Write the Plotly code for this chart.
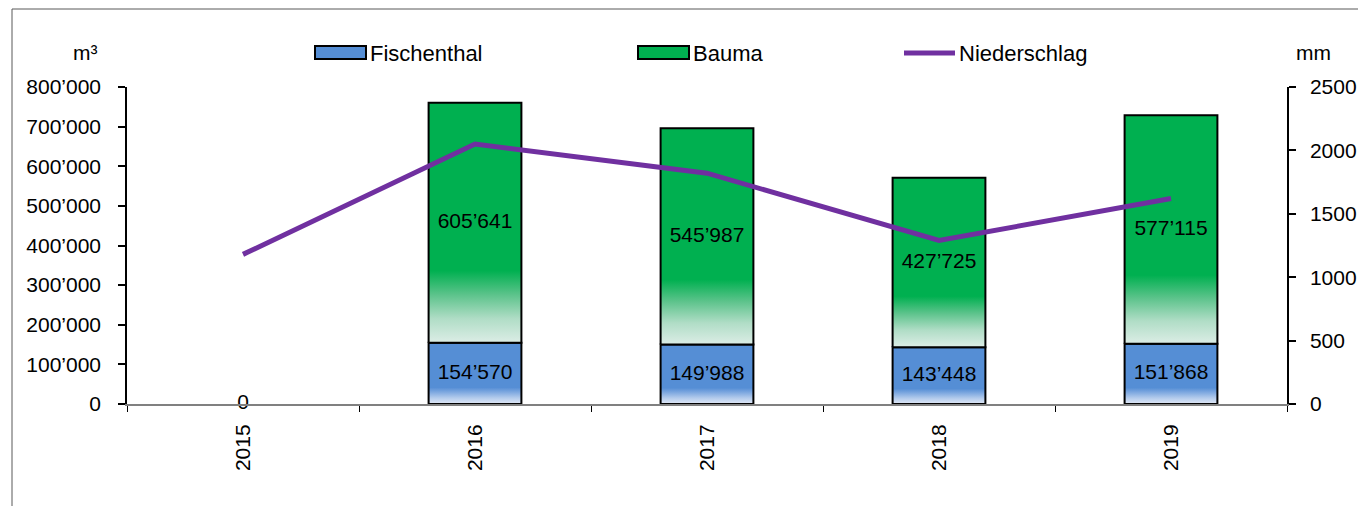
import plotly.graph_objects as go

# Jahreswerte
years = ["2015", "2016", "2017", "2018", "2019"]
fischenthal = [0, 154570, 149988, 143448, 151868]        # m³
bauma = [None, 605641, 545987, 427725, 577115]            # m³
niederschlag = [1180, 2050, 1820, 1290, 1620]             # mm

left_ticks = [0, 100000, 200000, 300000, 400000, 500000, 600000, 700000, 800000]
right_ticks = [0, 500, 1000, 1500, 2000, 2500]

BLUE = "#558ed5"
GREEN = "#00b050"
PURPLE = "#7030a0"
FONT = "Liberation Sans, Arial, sans-serif"
FS = 21

# Farbverlauf am unteren Rand der Balken (0 = Balkenfuss, 1 = Balkenoberkante)
BLUE_SCALE = [[0, "#e2e9f6"], [0.1, "#b3cbec"], [0.2, "#7ba6df"], [0.27, BLUE], [1, BLUE]]
GREEN_SCALE = [[0, "#dcede6"], [0.1, "#b0ddc6"], [0.2, "#5cc38b"], [0.3, GREEN], [1, GREEN]]

W, H = 1358, 506
ML, MR, MT, MB = 127, 71, 87, 102
PW, PH = W - ML - MR, H - MT - MB


def fmt(v):
    return f"{v:,}".replace(",", "\u2019")


def px_x(px):
    return (px - ML) / PW


def px_y(py):
    return (H - MB - py) / PH


BAR_HALF = 0.2
fig = go.Figure()


def add_bar(i, base, value, scale, name):
    x0, x1 = i - BAR_HALF, i + BAR_HALF
    top = base + value
    fig.add_trace(go.Scatter(
        x=[x0, x1, x1, x0, x0],
        y=[base, base, top, top, base],
        mode="lines",
        fill="toself",
        fillgradient=dict(type="vertical", start=base, stop=top, colorscale=scale),
        line=dict(color="black", width=2),
        name=name,
        showlegend=False,
        hoverinfo="skip",
    ))


for i, (f, b) in enumerate(zip(fischenthal, bauma)):
    if f:
        add_bar(i, 0, f, BLUE_SCALE, "Fischenthal")
    if b:
        add_bar(i, f, b, GREEN_SCALE, "Bauma")

# Wertebeschriftungen in der Mitte der Segmente
fx, fy, ft = [], [], []
bx, by, bt = [], [], []
for i, (f, b) in enumerate(zip(fischenthal, bauma)):
    fx.append(i)
    fy.append(f / 2)
    ft.append(fmt(f))
    if b is not None:
        bx.append(i)
        by.append(f + b / 2)
        bt.append(fmt(b))

fig.add_trace(go.Scatter(
    x=list(range(len(years))), y=niederschlag, mode="lines",
    line=dict(color=PURPLE, width=5), yaxis="y2", name="Niederschlag",
    showlegend=False,
))

fig.add_trace(go.Scatter(x=fx, y=fy, text=ft, mode="text", textposition="middle center",
                         textfont=dict(size=FS, color="black", family=FONT),
                         showlegend=False, hoverinfo="skip", cliponaxis=False))
fig.add_trace(go.Scatter(x=bx, y=by, text=bt, mode="text", textposition="middle center",
                         textfont=dict(size=FS, color="black", family=FONT),
                         showlegend=False, hoverinfo="skip"))

shapes = []
annotations = []

# Rahmen
shapes.append(dict(type="line", xref="paper", yref="paper",
                   x0=px_x(12), x1=px_x(1360), y0=px_y(9), y1=px_y(9),
                   line=dict(color="#595959", width=1)))
shapes.append(dict(type="line", xref="paper", yref="paper",
                   x0=px_x(12), x1=px_x(12), y0=px_y(9), y1=px_y(510),
                   line=dict(color="#595959", width=1)))

# Legende
legend_items = [
    ("rect", BLUE, "Fischenthal", 315, 366),
    ("rect", GREEN, "Bauma", 638, 689),
    ("line", PURPLE, "Niederschlag", 904, 955),
]
for kind, color, label, xa, xb in legend_items:
    if kind == "rect":
        shapes.append(dict(type="rect", xref="paper", yref="paper",
                           x0=px_x(xa), x1=px_x(xb), y0=px_y(59), y1=px_y(46),
                           fillcolor=color, line=dict(color="black", width=2)))
    else:
        shapes.append(dict(type="line", xref="paper", yref="paper",
                           x0=px_x(xa), x1=px_x(xb), y0=px_y(53), y1=px_y(53),
                           line=dict(color=color, width=5)))
    annotations.append(dict(xref="paper", yref="paper", x=px_x(xb + 2), y=px_y(53),
                            text=label, showarrow=False, xanchor="left", yanchor="middle",
                            font=dict(size=22, color="black", family=FONT)))

# Einheiten
annotations.append(dict(xref="paper", yref="paper", x=px_x(85), y=px_y(52), text="m³",
                        showarrow=False, xanchor="center", yanchor="middle",
                        font=dict(size=FS, color="black", family=FONT)))
annotations.append(dict(xref="paper", yref="paper", x=px_x(1313), y=px_y(52), text="mm",
                        showarrow=False, xanchor="center", yanchor="middle",
                        font=dict(size=FS, color="black", family=FONT)))

fig.update_layout(
    width=W, height=H,
    margin=dict(l=ML, r=MR, t=MT, b=MB, autoexpand=False),
    paper_bgcolor="white", plot_bgcolor="white",
    font=dict(family=FONT, size=FS, color="black"),
    showlegend=False,
    shapes=shapes,
    annotations=annotations,
    xaxis=dict(
        range=[-0.5, 4.5], tickvals=list(range(len(years))), ticktext=years,
        tickangle=-90, showgrid=False, zeroline=False,
        showline=True, linecolor="#808080", linewidth=2,
        ticks="outside", ticklen=10, tickcolor="rgba(0,0,0,0)",
        minor=dict(tickvals=[k - 0.5 for k in range(len(years) + 1)], ticks="outside",
                   ticklen=6, tickcolor="black", tickwidth=1),
        tickfont=dict(size=FS, family=FONT),
        fixedrange=True,
    ),
    yaxis=dict(
        range=[0, 800000], tickvals=left_ticks, ticktext=[fmt(v) for v in left_ticks],
        showgrid=False, zeroline=False, showline=True, linecolor="black", linewidth=1.5,
        ticks="outside", ticklen=7, tickcolor="black", tickwidth=1.5,
        ticklabelstandoff=13, tickfont=dict(size=FS, family=FONT),
    ),
    yaxis2=dict(
        range=[0, 2500], tickvals=right_ticks, ticktext=[str(v) for v in right_ticks],
        overlaying="y", side="right", anchor="x",
        showgrid=False, zeroline=False, showline=True, linecolor="black", linewidth=1.5,
        ticks="outside", ticklen=7, tickcolor="black", tickwidth=1.5,
        ticklabelstandoff=10, tickfont=dict(size=FS, family=FONT),
    ),
)

fig.write_html("out.html")
